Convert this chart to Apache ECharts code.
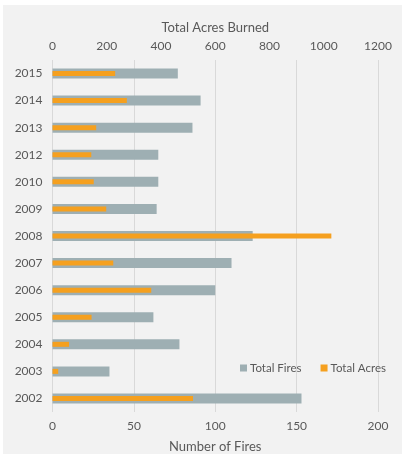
<!DOCTYPE html>
<html><head><meta charset="utf-8">
<script src="https://cdn.jsdelivr.net/npm/echarts@6/dist/echarts.min.js"></script>
<style>
html,body{margin:0;padding:0;background:#fff;}
#c{position:absolute;left:3px;top:5px;width:399px;height:449px;background:#f2f2f2;}
</style></head>
<body><div id="c"></div>
<script>
const years = ['2002','2003','2004','2005','2006','2007','2008','2009','2010','2012','2013','2014','2015'];
const totalFires = [153, 35, 78, 62, 100, 110, 123, 64, 65, 65, 86, 91, 77];
const totalAcres = [518, 21, 61, 144, 364, 224, 1028, 198, 152, 143, 161, 274, 231];
const firesTicks = {min: 0, max: 200, interval: 50};
const acresTicks = {min: 0, max: 1200, interval: 200};

const font = 'Lato, "DejaVu Sans", sans-serif';
const txt = '#595959';
const chart = echarts.init(document.getElementById('c'), null, {renderer: 'canvas'});
const catAxis = (show) => ({type: 'category', data: years, show: show,
    axisLine: {show: false}, axisTick: {show: false},
    axisLabel: {color: txt, fontSize: 12, margin: 10, fontFamily: font}});
chart.setOption({
  backgroundColor: '#f2f2f2',
  textStyle: {fontFamily: font},
  animation: false,
  grid: {left: 49.5, right: 24, top: 55, bottom: 42, outerBoundsMode: 'none', containLabel: false},
  legend: {
    data: ['Total Fires', 'Total Acres'],
    left: 232, top: 352,
    itemWidth: 7, itemHeight: 7, itemGap: 19,
    icon: 'rect',
    textStyle: {color: txt, fontSize: 11.5, fontFamily: font, padding: [0, 0, 0, -2]}
  },
  xAxis: [
    {type: 'value', position: 'bottom', min: firesTicks.min, max: firesTicks.max, interval: firesTicks.interval,
     name: 'Number of Fires', nameLocation: 'middle', nameGap: 28,
     nameTextStyle: {color: txt, fontSize: 13, fontFamily: font},
     axisLine: {show: false}, axisTick: {show: false},
     axisLabel: {color: txt, fontSize: 12, margin: 8, fontFamily: font},
     splitLine: {show: true, lineStyle: {color: '#d9d9d9', width: 1}}},
    {type: 'value', position: 'top', min: acresTicks.min, max: acresTicks.max, interval: acresTicks.interval,
     name: 'Total Acres Burned', nameLocation: 'middle', nameGap: 26,
     nameTextStyle: {color: txt, fontSize: 13, fontFamily: font},
     axisLine: {show: false}, axisTick: {show: false},
     axisLabel: {color: txt, fontSize: 12, margin: 8, fontFamily: font, formatter: v => String(v)},
     splitLine: {show: false}}
  ],
  yAxis: [catAxis(true), catAxis(false)],
  series: [
    {name: 'Total Fires', type: 'bar', xAxisIndex: 0, yAxisIndex: 0, data: totalFires, barWidth: 10,
     itemStyle: {color: '#9eafb3'}, z: 2},
    {name: 'Total Acres', type: 'bar', xAxisIndex: 1, yAxisIndex: 1, data: totalAcres, barWidth: 5,
     itemStyle: {color: '#f5a01f'}, z: 3}
  ]
});
</script></body></html>
